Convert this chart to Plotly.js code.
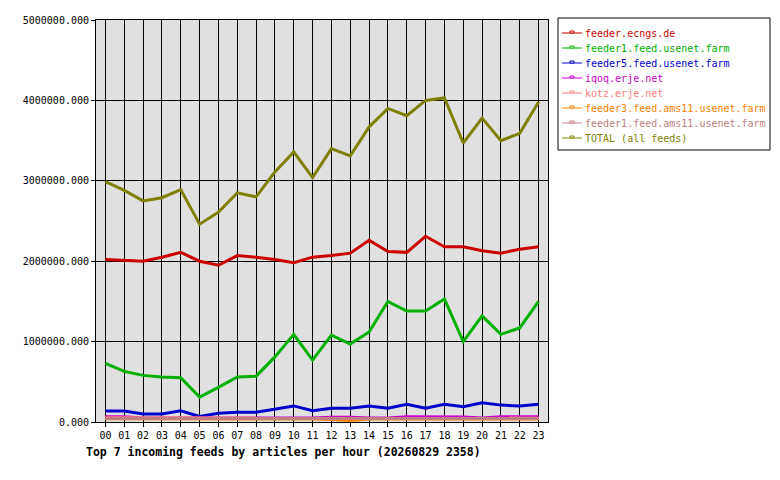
<!DOCTYPE html>
<html>
<head>
<meta charset="utf-8">
<script src="https://cdn.plot.ly/plotly-3.0.1.min.js"></script>
<style>
  body { margin: 0; background: #fff; }
  #chart { width: 780px; height: 480px; }
</style>
</head>
<body>
<div id="chart"></div>
<script>
var hours = ['00','01','02','03','04','05','06','07','08','09','10','11',
             '12','13','14','15','16','17','18','19','20','21','22','23'];

var feederEcngs = [2020000, 2010000, 2000000, 2050000, 2110000, 2000000, 1950000, 2070000,
                   2050000, 2020000, 1980000, 2050000, 2070000, 2100000, 2260000, 2120000,
                   2110000, 2310000, 2180000, 2180000, 2130000, 2100000, 2150000, 2180000];
var feeder1Farm = [730000, 630000, 580000, 560000, 550000, 310000, 430000, 560000,
                   570000, 810000, 1090000, 770000, 1080000, 970000, 1120000, 1500000,
                   1380000, 1380000, 1530000, 1000000, 1320000, 1090000, 1170000, 1500000];
var feeder5Farm = [136000, 136000, 100000, 100000, 140000, 70000, 110000, 120000,
                   120000, 160000, 200000, 140000, 170000, 170000, 200000, 170000,
                   220000, 170000, 220000, 190000, 240000, 210000, 200000, 220000];
var iqoq = [66000, 66000, 50000, 50000, 50000, 50000, 50000, 50000,
            50000, 58000, 50000, 50000, 60000, 60000, 50000, 50000,
            66000, 66000, 66000, 62000, 50000, 66000, 66000, 66000];
var kotz = [52000, 52000, 48000, 48000, 48000, 48000, 48000, 48000,
            48000, 48000, 48000, 48000, 55000, 48000, 48000, 48000,
            48000, 48000, 48000, 48000, 48000, 48000, 48000, 48000];
var feeder3Ams = [40000, 40000, 42000, 38000, 38000, 38000, 38000, 38000,
                  38000, 38000, 38000, 38000, 30000, 20000, 38000, 38000,
                  38000, 38000, 38000, 38000, 38000, 38000, 38000, 38000];
var feeder1Ams = [42000, 42000, 38000, 42000, 42000, 42000, 42000, 42000,
                  42000, 42000, 42000, 42000, 42000, 42000, 42000, 42000,
                  42000, 42000, 42000, 42000, 42000, 42000, 42000, 42000];
var total = [2990000, 2880000, 2750000, 2790000, 2890000, 2460000, 2610000, 2850000,
             2800000, 3110000, 3360000, 3040000, 3400000, 3310000, 3670000, 3900000,
             3810000, 4000000, 4030000, 3470000, 3780000, 3500000, 3590000, 3980000];

var names = ['feeder.ecngs.de', 'feeder1.feed.usenet.farm', 'feeder5.feed.usenet.farm',
             'iqoq.erje.net', 'kotz.erje.net', 'feeder3.feed.ams11.usenet.farm',
             'feeder1.feed.ams11.usenet.farm', 'TOTAL (all feeds)'];
var colors = ['#cc0000', '#00b000', '#0000cc', '#cc00cc', '#ff8080', '#ff8000', '#c08080', '#808000'];
var series = [feederEcngs, feeder1Farm, feeder5Farm, iqoq, kotz, feeder3Ams, feeder1Ams, total];

var mono = 'DejaVu Sans Mono, monospace';

var traces = series.map(function(s, i) {
  return {
    x: hours,
    y: s,
    name: names[i],
    type: 'scatter',
    mode: 'lines',
    line: {color: colors[i], width: 3},
    hoverinfo: 'skip'
  };
});

// plot area in pixels: x 96..548, y 20..422
var L = 96, R = 548, T = 20, B = 422;
function px(x) { return (x - L) / (R - L); }
function py(y) { return (B - y) / (B - T); }

// hand-drawn legend box like the original (GD::Graph style)
var shapes = [{
  type: 'rect', xref: 'paper', yref: 'paper',
  x0: px(558), x1: px(770), y0: py(18), y1: py(150),
  line: {color: '#000', width: 1}, fillcolor: '#fff', layer: 'above'
}];
var annotations = [{
  text: '<b>Top 7 incoming feeds by articles per hour (20260829 2358)</b>',
  xref: 'paper', yref: 'paper', x: px(84), y: py(452),
  xanchor: 'left', yanchor: 'middle', showarrow: false,
  font: {family: mono, size: 11.5, color: '#000'}
}];
names.forEach(function(n, i) {
  var yy = 33 + i * 15;
  shapes.push({
    type: 'line', xref: 'paper', yref: 'paper',
    x0: px(562), x1: px(582), y0: py(yy), y1: py(yy),
    line: {color: colors[i], width: 1}, layer: 'above'
  });
  shapes.push({
    type: 'rect', xref: 'paper', yref: 'paper',
    x0: px(570), x1: px(574), y0: py(yy), y1: py(yy - 2),
    line: {color: colors[i], width: 1}, fillcolor: '#fff', layer: 'above'
  });
  annotations.push({
    text: n, xref: 'paper', yref: 'paper', x: px(583), y: py(yy),
    xanchor: 'left', yanchor: 'middle', showarrow: false,
    font: {family: mono, size: 10, color: colors[i]}
  });
});

var layout = {
  width: 780,
  height: 480,
  paper_bgcolor: '#ffffff',
  plot_bgcolor: '#e0e0e0',
  margin: {l: L, r: 780 - R, t: T, b: 480 - B},
  showlegend: false,
  xaxis: {
    type: 'category',
    range: [-0.5, 23.5],
    showgrid: true,
    gridcolor: '#000',
    gridwidth: 1,
    showline: true,
    linecolor: '#000',
    linewidth: 1,
    mirror: true,
    ticks: 'outside',
    ticklen: 4,
    tickcolor: '#000',
    tickfont: {family: mono, size: 10, color: '#000'},
    zeroline: false
  },
  yaxis: {
    range: [0, 5000000],
    tickvals: [0, 1000000, 2000000, 3000000, 4000000, 5000000],
    tickformat: '.3f',
    showgrid: true,
    gridcolor: '#000',
    gridwidth: 1,
    showline: true,
    linecolor: '#000',
    linewidth: 1,
    mirror: true,
    ticks: 'outside',
    ticklen: 4,
    tickcolor: '#000',
    tickfont: {family: mono, size: 10, color: '#000'},
    zeroline: false
  },
  shapes: shapes,
  annotations: annotations
};

Plotly.newPlot('chart', traces, layout, {displayModeBar: false, staticPlot: true});
</script>
</body>
</html>
